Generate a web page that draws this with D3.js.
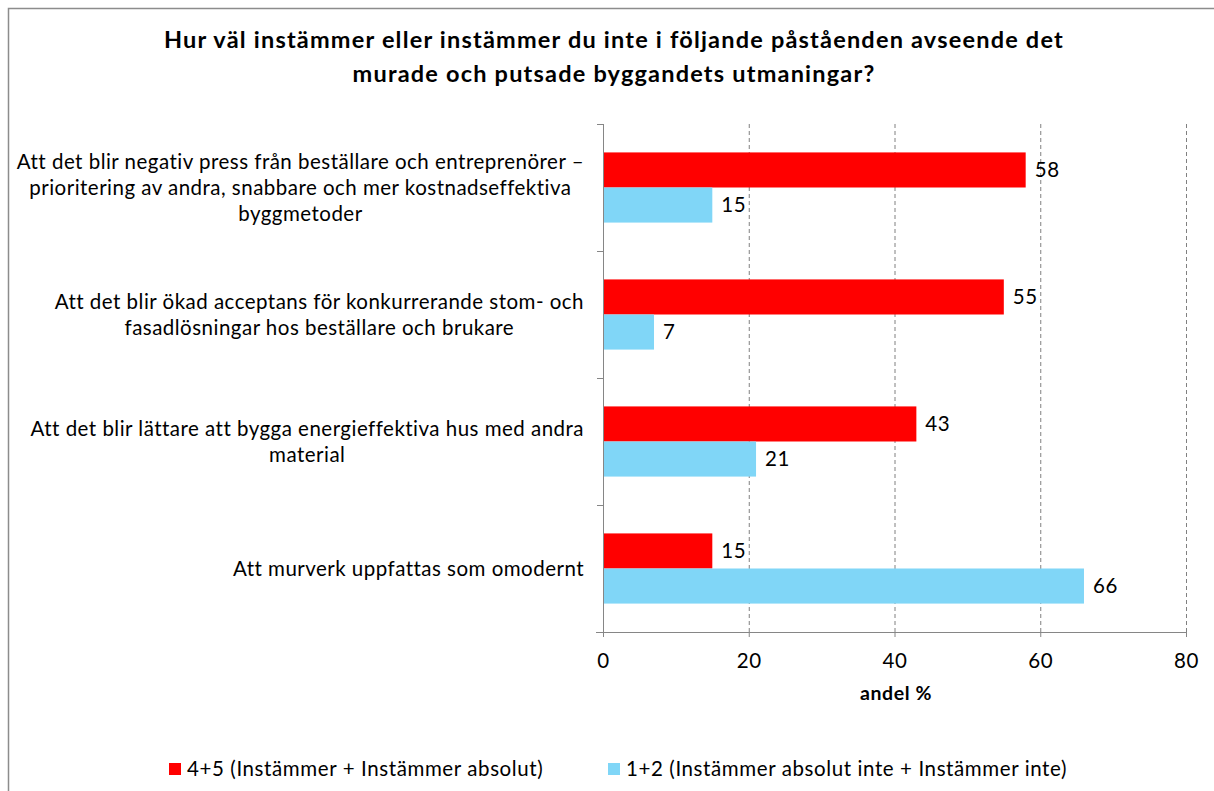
<!DOCTYPE html>
<html><head><meta charset="utf-8">
<script src="https://cdn.jsdelivr.net/npm/d3@7"></script>
<style>
html,body{margin:0;padding:0;background:#fff;}
text{font-family:Lato,"Liberation Sans",sans-serif;fill:#000;}
</style></head>
<body>
<svg id="chart" width="1214" height="791"></svg>
<script>
const titleLines = ["Hur väl instämmer eller instämmer du inte i följande påståenden avseende det",
                    "murade och putsade byggandets utmaningar?"];
const categories = [
  ["Att det blir negativ press från beställare och entreprenörer –",
   "prioritering av andra, snabbare och mer kostnadseffektiva",
   "byggmetoder"],
  ["Att det blir ökad acceptans för konkurrerande stom- och",
   "fasadlösningar hos beställare och brukare"],
  ["Att det blir lättare att bygga energieffektiva hus med andra",
   "material"],
  ["Att murverk uppfattas som omodernt"]
];
const seriesNames = ["4+5 (Instämmer + Instämmer absolut)", "1+2 (Instämmer absolut inte + Instämmer inte)"];
const seriesColors = ["#FF0000", "#80D6F7"];
const agreeValues = [58, 55, 43, 15];
const disagreeValues = [15, 7, 21, 66];
const xTicks = [0, 20, 40, 60, 80];
const xLabel = "andel %";

const txtSize = "20.5px", txtSpacing = "0.6px", labSpacing = "0.48px";
const svg = d3.select("#chart");
svg.append("rect").attr("x",8.5).attr("y",8.5).attr("width",1300).attr("height",900)
  .attr("fill","none").attr("stroke","#8c8c8c").attr("stroke-width",1.5);

svg.append("g").selectAll("text").data(titleLines).join("text")
  .attr("x",614).attr("y",(d,i)=>48+i*34).attr("text-anchor","middle")
  .style("font-size","23.5px").style("letter-spacing","1.2px").style("font-weight","bold").text(d=>d);

const pLeft = 603, pRight = 1186, pTop = 124, pBottom = 632;
const x = d3.scaleLinear().domain([0,80]).range([pLeft,pRight]);
const idx = d3.range(categories.length);
const y = d3.scaleBand().domain(idx).range([pTop,pBottom]).paddingInner(0).paddingOuter(0);
const inner = d3.scaleBand().domain([0,1]).range([0,y.bandwidth()]).paddingOuter(0.81).paddingInner(0);

svg.append("g").selectAll("line").data(xTicks.slice(1)).join("line")
  .attr("x1",d=>x(d)+0.5).attr("x2",d=>x(d)+0.5).attr("y1",pTop).attr("y2",pBottom)
  .attr("stroke","#808080").attr("stroke-width",1).attr("stroke-dasharray","4,3");

const series = [agreeValues, disagreeValues];
series.forEach((vals, s) => {
  const g = svg.append("g");
  g.selectAll("rect").data(vals).join("rect")
    .attr("x",x(0)).attr("y",(d,i)=>y(i)+inner(s))
    .attr("width",d=>x(d)-x(0)).attr("height",inner.bandwidth())
    .attr("fill",seriesColors[s]);
  g.selectAll("text").data(vals).join("text")
    .attr("x",d=>x(d)+9).attr("y",(d,i)=>y(i)+inner(s)+inner.bandwidth()/2)
    .attr("dy","0.35em").style("font-size",txtSize).style("letter-spacing",txtSpacing).text(d=>d);
});

const xAxis = svg.append("g").attr("transform",`translate(0,${pBottom})`)
  .call(d3.axisBottom(x).tickValues(xTicks).tickSize(5).tickSizeOuter(0).tickPadding(16));
xAxis.select(".domain").attr("stroke","#868686").attr("d",`M${pLeft-7},0.5H${pRight}`);
xAxis.selectAll(".tick line").attr("stroke","#868686");
xAxis.selectAll("text").style("font-size",txtSize).style("letter-spacing",txtSpacing)
  .style("font-family","Lato, 'Liberation Sans', sans-serif").attr("fill","#000");

svg.append("line").attr("x1",pLeft+0.5).attr("x2",pLeft+0.5).attr("y1",pTop).attr("y2",pBottom)
  .attr("stroke","#868686");
svg.append("g").selectAll("line").data(d3.range(categories.length+1)).join("line")
  .attr("x1",pLeft-6).attr("x2",pLeft).attr("y1",d=>pTop+d*y.step()+0.5).attr("y2",d=>pTop+d*y.step()+0.5)
  .attr("stroke","#868686");

const labRight = 584, lineH = 26;
categories.forEach((lines,i) => {
  const g = svg.append("g");
  const ts = g.selectAll("text").data(lines).join("text")
    .style("font-size",txtSize).style("letter-spacing",labSpacing).attr("text-anchor","middle")
    .attr("y",(d,j)=>y(i)+y.bandwidth()/2 + (j-(lines.length-1)/2)*lineH)
    .attr("dy","0.35em").text(d=>d);
  let maxW = 0;
  ts.each(function(){ maxW = Math.max(maxW, this.getComputedTextLength()); });
  ts.attr("x", labRight - maxW/2);
});

svg.append("text").attr("x",896).attr("y",700).attr("text-anchor","middle")
  .style("font-size","19.5px").style("letter-spacing","0.6px").style("font-weight","bold").text(xLabel);

const legX = [169, 608];
seriesNames.forEach((n,s)=>{
  svg.append("rect").attr("x",legX[s]).attr("y",763).attr("width",12).attr("height",12).attr("fill",seriesColors[s]);
  svg.append("text").attr("x",legX[s]+18).attr("y",769).attr("dy","0.35em")
    .style("font-size",txtSize).style("letter-spacing",txtSpacing).text(n);
});
</script>
</body></html>
